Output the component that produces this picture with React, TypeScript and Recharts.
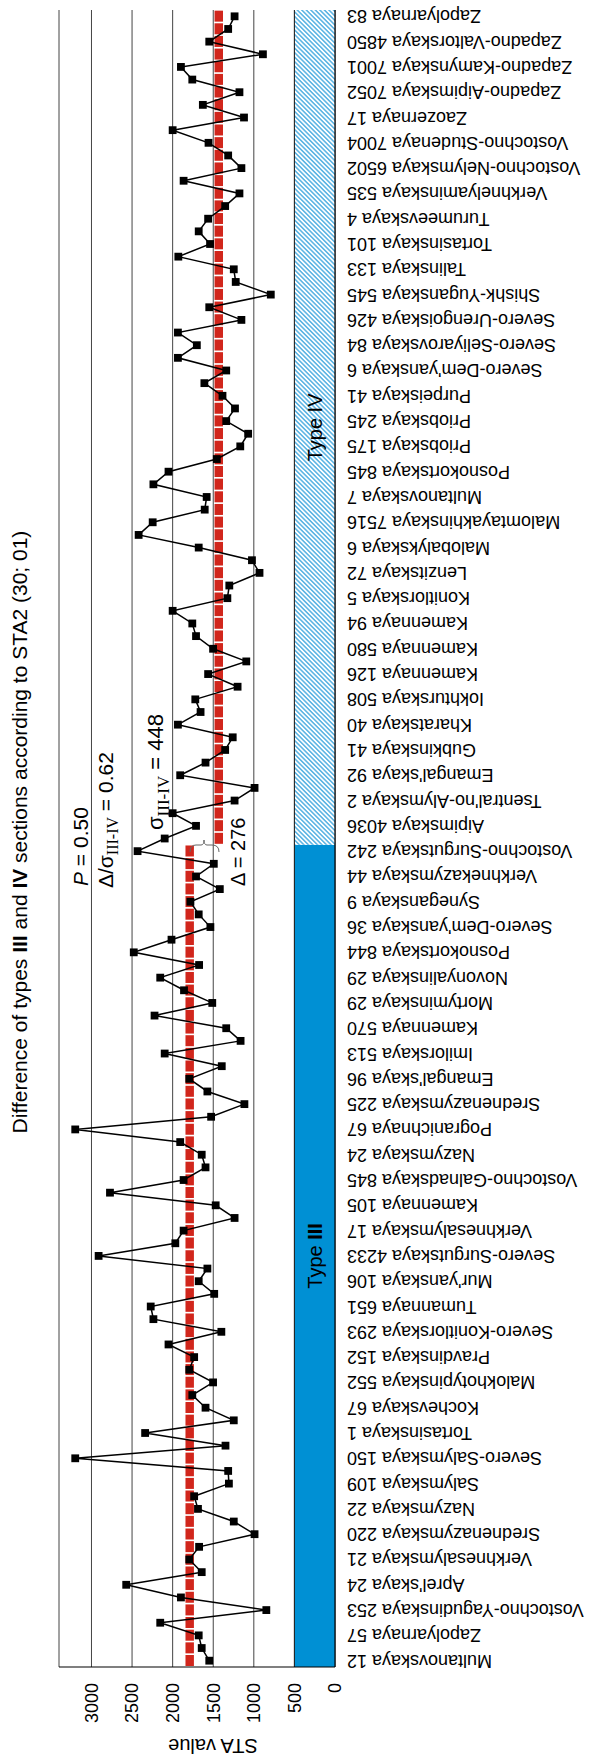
import React from "react";
import {
  ComposedChart,
  Line,
  Bar,
  XAxis,
  YAxis,
  CartesianGrid,
  ReferenceArea,
  ReferenceLine,
} from "recharts";

// stations with a visible label (every second category is labelled)
const labelledStations = [
  "Multanovskaya 12", "Zapolyarnaya 57", "Vostochno-Yagudinskaya 253", "Aprel'skaya 24",
  "Verkhnesalymskaya 21", "Srednenazymskaya 220", "Nazymskaya 22", "Salymskaya 109",
  "Severo-Salymskaya 150", "Tortasinskaya 1", "Kochevskaya 67", "Malokhotypinskaya 552",
  "Pravdinskaya 152", "Severo-Konitlorskaya 293", "Tumannaya 651", "Mur'yanskaya 106",
  "Severo-Surgutskaya 4233", "Verkhnesalymskaya 17", "Kamennaya 105", "Vostochno-Galnadskaya 845",
  "Nazymskaya 24", "Pogranichnaya 67", "Srednenazymskaya 225", "Emangal'skaya 96",
  "Imilorskaya 513", "Kamennaya 570", "Mortyminskaya 29", "Novonyalinskaya 29",
  "Posnokortskaya 844", "Severo-Dem'yanskaya 36", "Syneganskaya 9", "Verkhnekazymskaya 44",
  "Vostochno-Surgutskaya 242", "Aipimskaya 4036", "Tsentral'no-Alymskaya 2", "Emangal'skaya 92",
  "Gubkinskaya 41", "Kharatskaya 40", "Iokhturskaya 508", "Kamennaya 126",
  "Kamennaya 580", "Kamennaya 94", "Konitlorskaya 5", "Lenzitskaya 72",
  "Malobalykskaya 6", "Malomtayakhinskaya 7516", "Multanovskaya 7", "Posnokortskaya 845",
  "Priobskaya 175", "Priobskaya 245", "Purpeiskaya 41", "Severo-Dem'yanskaya 6",
  "Severo-Seliyarovskaya 84", "Severo-Urengoiskaya 426", "Shishk-Yuganskaya 545", "Talinskaya 133",
  "Tortasinskaya 101", "Turumeevskaya 4", "Verkhnelyaminskaya 535", "Vostochno-Nelymskaya 6502",
  "Vostochno-Studenaya 7004", "Zaozernaya 17", "Zapadno-Aipimskaya 7052", "Zapadno-Kamynskaya 7001",
  "Zapadno-Valtorskaya 4850", "Zapolyarnaya 83",
];

// STA value of every section, in axis order
const staValues = [
  1549, 1642, 1679, 2153, 846, 1898, 2572, 1642, 1795, 1674,
  991, 1247, 1688, 1735, 1307, 1316, 3200, 1349, 2339, 1247,
  1595, 1758, 1502, 1795, 1735, 2051, 1400, 2237, 2270, 1488,
  1679, 1572, 2912, 1967, 1865, 1237, 1470, 2772, 1865, 1595,
  1642, 1907, 3200, 1526, 1116, 1572, 1795, 1395, 2098, 1163,
  1340, 2223, 1512, 1860, 2153, 1674, 2479, 2014, 1535, 1679,
  1781, 1419, 1712, 1493, 2432, 2098, 1712, 2000, 1237, 991,
  1907, 1595, 1353, 1260, 1935, 1656, 1721, 1200, 1563, 1093,
  1502, 1712, 1758, 2000, 1326, 1302, 930, 1023, 1679, 2419,
  2246, 1605, 1581, 2237, 2051, 1456, 1167, 1070, 1340, 1232,
  1386, 1609, 1340, 1935, 1702, 1935, 1153, 1549, 791, 1223,
  1247, 1930, 1539, 1679, 1563, 1353, 1177, 1865, 1153, 1316,
  1558, 2000, 1121, 1628, 1177, 1758, 1898, 888, 1549, 1316,
  1237,
];

const typeIII = { first: 0, last: 64, mean: 1790 };
const typeIV = { first: 65, last: 130, mean: 1432 };
const valueTicks = [0, 500, 1000, 1500, 2000, 2500, 3000];
const bandTop = 500;
const meanHalf = 52;

const FONT = "'Liberation Sans', Arial, sans-serif";
const SERIF = "'Liberation Serif', 'Times New Roman', serif";

const W = 1756;
const H = 592;

const data = staValues.map((sta, idx) => ({
  idx,
  sta,
  mean: idx <= typeIII.last ? typeIII.mean : typeIV.mean,
}));

const stationName = (idx: number) => (idx % 2 === 0 ? labelledStations[idx / 2] : "");

const CategoryTick = (props: any) => {
  const { x, y, payload } = props;
  return (
    <text
      x={x}
      y={y}
      transform={`rotate(-90 ${x} ${y})`}
      textAnchor="end"
      dominantBaseline="central"
      fontSize={18}
      fontFamily={FONT}
      fill="#000"
    >
      {stationName(payload.value)}
    </text>
  );
};

const SquareDot = (props: any) => {
  const { cx, cy } = props;
  if (cx == null || cy == null) return null;
  return <rect x={cx - 3.9} y={cy - 3.9} width={7.8} height={7.8} fill="#000" />;
};

const typeLabel = (roman: string, bold: boolean) => (props: any) => {
  const { x, y, width, height } = props.viewBox;
  return (
    <text
      x={x + width / 2}
      y={y + height / 2}
      textAnchor="middle"
      dominantBaseline="central"
      fontSize={20}
      fontFamily={FONT}
      fill="#000"
    >
      Type <tspan fontWeight={bold ? "bold" : "normal"}>{roman}</tspan>
    </text>
  );
};

export default function App() {
  return (
    <div
      style={{
        position: "absolute",
        left: 0,
        top: 0,
        width: H,
        height: W,
        overflow: "hidden",
        background: "#fff",
      }}
    >
      <div
        style={{
          position: "absolute",
          left: 0,
          top: 0,
          width: W,
          height: H,
          transformOrigin: "0 0",
          transform: `translate(0px, ${W}px) rotate(-90deg)`,
        }}
      >
        <svg width={0} height={0} style={{ position: "absolute" }}>
          <defs>
            <pattern
              id="hatchIV"
              patternUnits="userSpaceOnUse"
              width={3.2}
              height={3.2}
              patternTransform="rotate(45)"
            >
              <rect width={3.2} height={3.2} fill="#fff" />
              <line x1={1.6} y1={0} x2={1.6} y2={3.2} stroke="#2a9edb" strokeWidth={1.2} />
            </pattern>
          </defs>
        </svg>

        <ComposedChart
          width={W}
          height={H}
          data={data}
          margin={{ top: 59, right: 10, bottom: 0, left: 0 }}
          barCategoryGap={1}
        >
          <CartesianGrid vertical={false} stroke="#444" strokeWidth={1} />
          <XAxis
            dataKey="idx"
            type="category"
            interval={1}
            height={257}
            tickLine={false}
            tickSize={0}
            tickMargin={12}
            axisLine={{ stroke: "#000", strokeWidth: 1.2 }}
            tick={<CategoryTick />}
          />
          <YAxis
            type="number"
            domain={[0, 3400]}
            ticks={valueTicks}
            width={89}
            tickLine={false}
            tickSize={0}
            tickMargin={16}
            axisLine={{ stroke: "#000", strokeWidth: 1.2 }}
            tick={{ fontSize: 18, fontFamily: FONT, fill: "#000" }}
          />
          <ReferenceArea
            x1={typeIII.first}
            x2={typeIII.last}
            y1={0}
            y2={bandTop}
            fill="#0090d4"
            fillOpacity={1}
            stroke="none"
            label={typeLabel("III", true)}
          />
          <ReferenceArea
            x1={typeIV.first}
            x2={typeIV.last}
            y1={0}
            y2={bandTop}
            fill="url(#hatchIV)"
            fillOpacity={1}
            stroke="none"
            label={typeLabel("IV", false)}
          />
          <ReferenceLine y={bandTop} stroke="#222" strokeWidth={1} />
          <Bar
            dataKey={(d: any) => [d.mean - meanHalf, d.mean + meanHalf]}
            fill="#d1261c"
            isAnimationActive={false}
          />
          <Line
            dataKey="sta"
            type="linear"
            stroke="#000"
            strokeWidth={1.5}
            dot={<SquareDot />}
            activeDot={false}
            isAnimationActive={false}
          />
        </ComposedChart>

        <svg
          width={W}
          height={H}
          style={{ position: "absolute", left: 0, top: 0, pointerEvents: "none" }}
        >
          <text x={924} y={27} textAnchor="middle" fontSize={21} fontFamily={FONT} fill="#000">
            Difference of types <tspan fontWeight="bold">III</tspan> and{" "}
            <tspan fontWeight="bold">IV</tspan> sections according to STA2 (30; 01)
          </text>
          <text
            x={10}
            y={213}
            transform="rotate(-90 10 213)"
            textAnchor="middle"
            dominantBaseline="central"
            fontSize={20}
            fontFamily={FONT}
            fill="#000"
          >
            STA value
          </text>

          <text x={870} y={88} fontSize={21} fontFamily={FONT} fill="#000">
            <tspan fontStyle="italic">P</tspan> = 0.50
          </text>
          <text x={868} y={113} fontSize={21} fontFamily={FONT} fill="#000">
            Δ/σ
            <tspan fontFamily={SERIF} fontSize={16} dy={5}>III-IV</tspan>
            <tspan dy={-5}> = 0.62</tspan>
          </text>
          <text x={926} y={163} fontSize={22} fontFamily={FONT} fill="#000">
            σ
            <tspan fontFamily={SERIF} fontSize={17} dy={6}>III-IV</tspan>
            <tspan dy={-6}> = 448</tspan>
          </text>
          <text x={870} y={245} fontSize={20} fontFamily={FONT} fill="#000">
            Δ = 276
          </text>
          <path
            d="M904,190 Q911,190 911,196 L911,201 Q911,204 916,204 Q911,204 911,207 L911,212 Q911,219 904,219"
            fill="none"
            stroke="#666"
            strokeWidth={1}
          />
        </svg>
      </div>
    </div>
  );
}
